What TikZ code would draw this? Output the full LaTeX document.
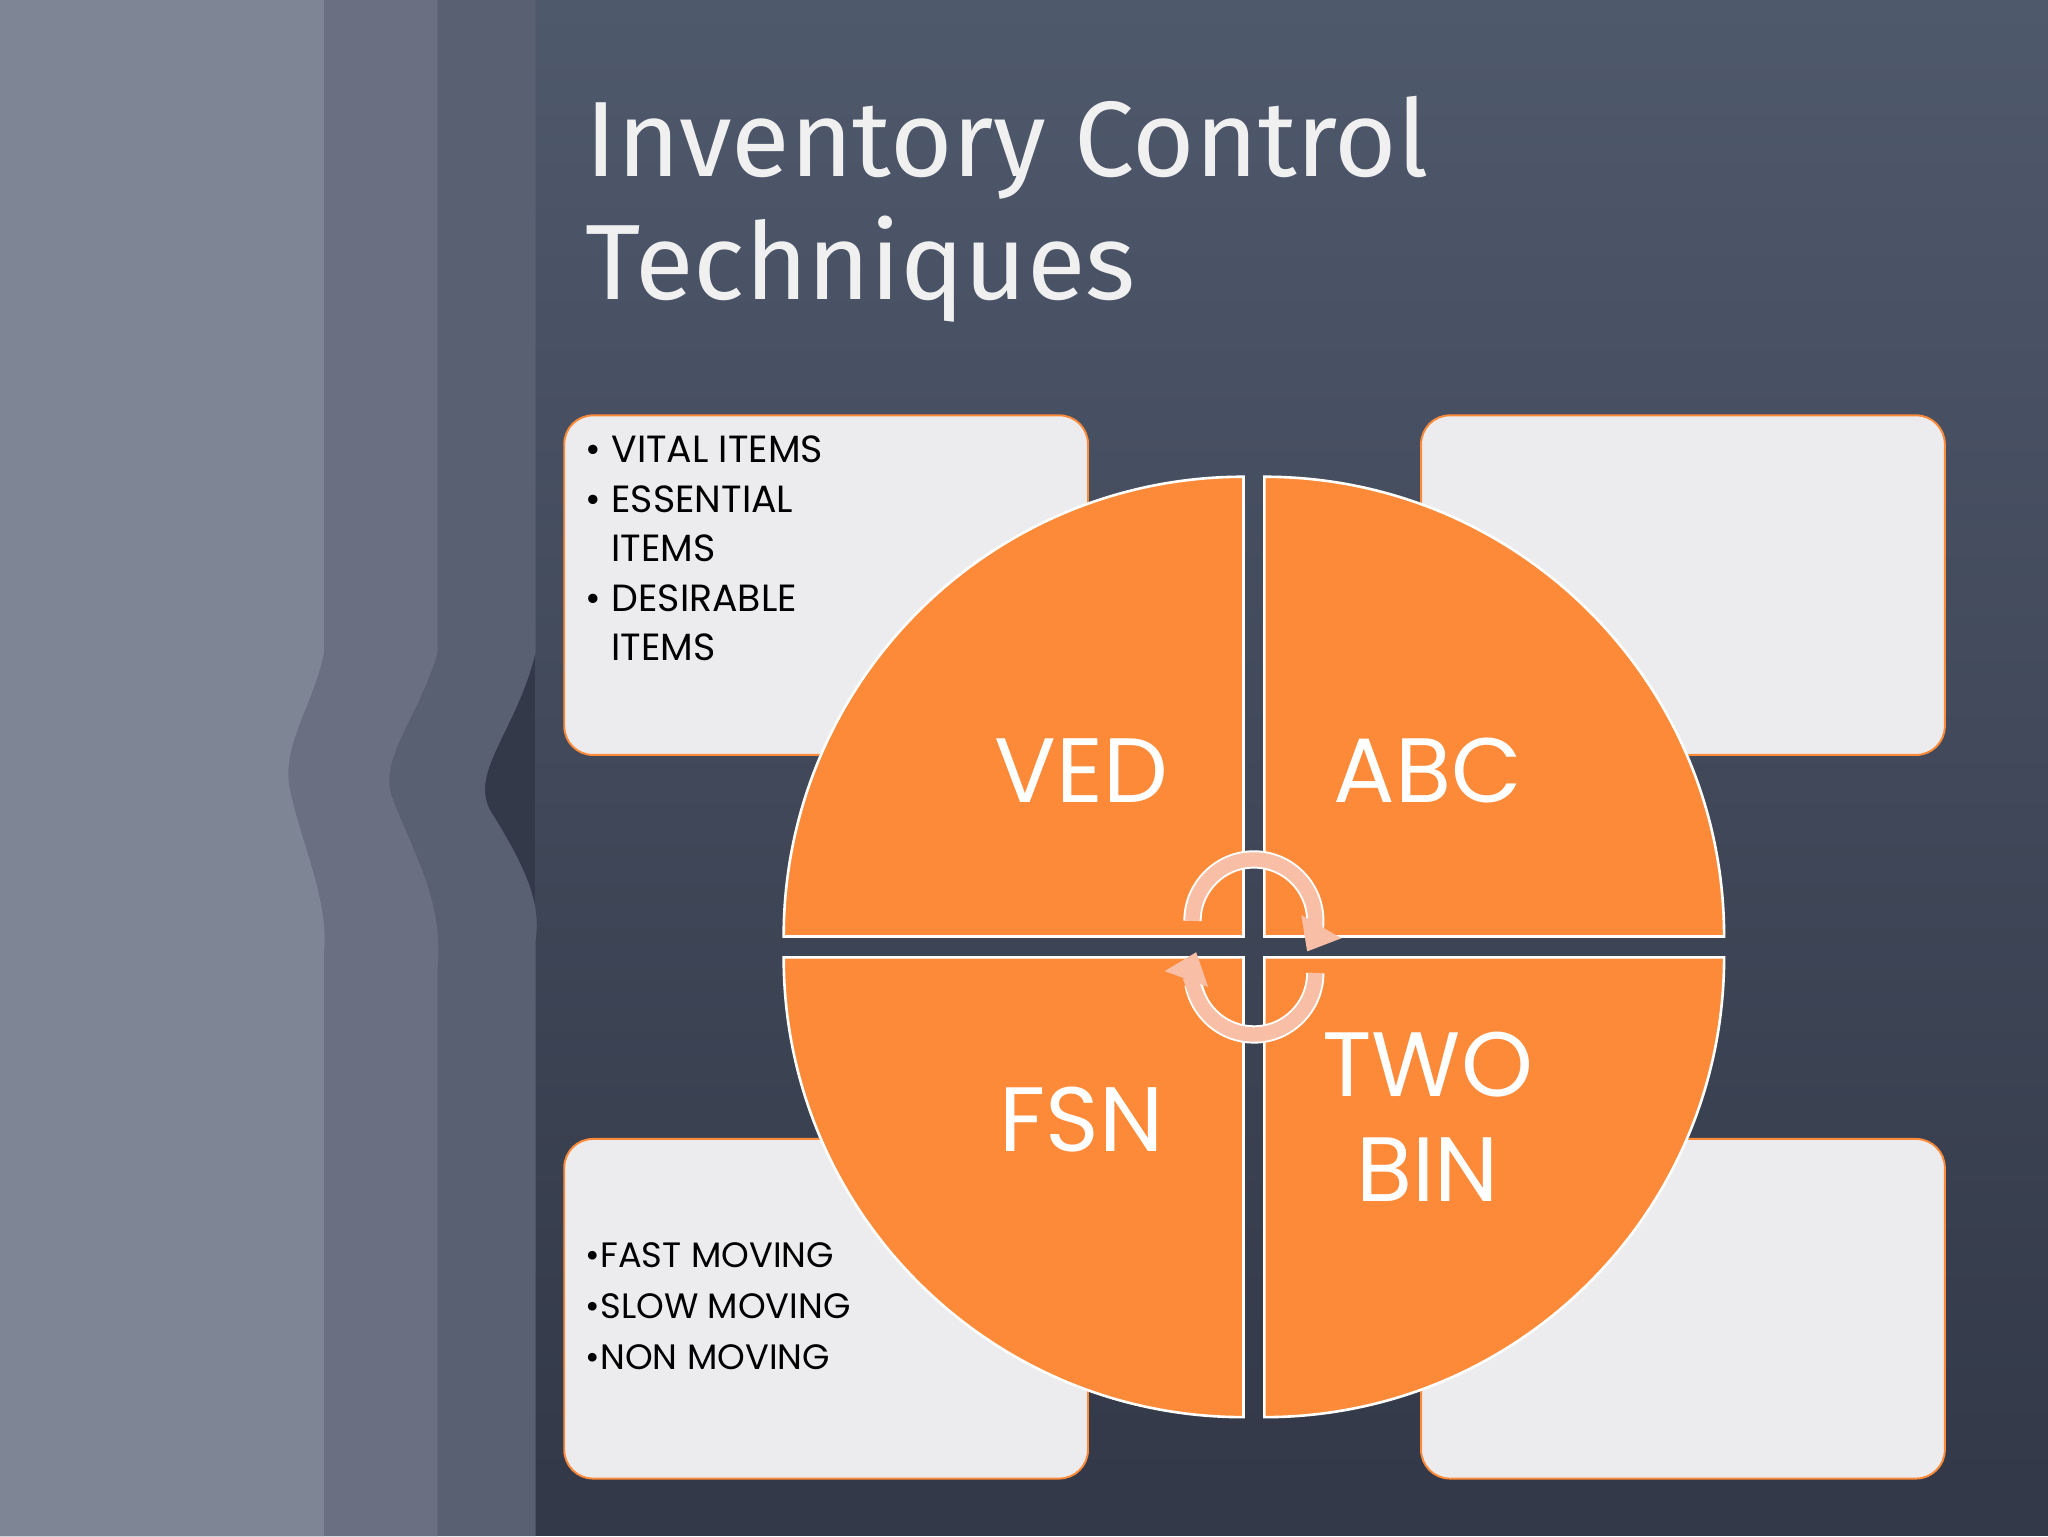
\documentclass[tikz,border=0pt]{standalone}
\usepackage{fontspec}
\setmainfont{Poppins}
\newfontfamily\titlefont{Fira Sans}
\usetikzlibrary{arrows.meta}
\definecolor{bgtop}{HTML}{4F596C}
\definecolor{bgbot}{HTML}{333948}
\definecolor{stripA}{HTML}{7E8594}
\definecolor{stripB}{HTML}{6A7082}
\definecolor{stripC}{HTML}{596072}
\definecolor{boxfill}{HTML}{ECECEF}
\definecolor{orng}{HTML}{FD8A39}
\definecolor{peach}{HTML}{F8BFA6}
\tikzset{
 infobox/.style={draw=orng,line width=1.5pt,fill=boxfill,rounded corners=22pt},
 quad/.style={fill=orng,draw=white,line width=2pt},
 bigtxt/.style={text=white,font=\fontsize{70}{72}\selectfont,align=center},
 listtxt/.style={text=black,font=\fontsize{29}{38}\selectfont,align=left,anchor=north west},
 cyc/.style={draw=peach,line width=11pt,-{Triangle[length=22pt,width=34pt]}}
}
\begin{document}
\begin{tikzpicture}[x=1pt,y=-1pt]
\useasboundingbox (0,0) rectangle (1568,1176);
\fill[bgbot] (0,0) rectangle (1568,1176);
\shade[top color=bgtop,bottom color=bgbot] (410,0) rectangle (1568,1135);
\fill[stripC] (0,0) -- (410,0) -- (410,500) .. controls (395,560) and (360,590) .. (375,620) .. controls (400,660) and (415,690) .. (410,720) -- (410,1176) -- (0,1176) -- cycle;
\fill[stripB] (0,0) -- (335,0) -- (335,500) .. controls (320,550) and (290,580) .. (300,610) .. controls (315,650) and (340,690) .. (335,740) -- (335,1176) -- (0,1176) -- cycle;
\fill[stripA] (0,0) -- (248,0) -- (248,500) .. controls (240,540) and (215,570) .. (222,605) .. controls (232,650) and (252,690) .. (248,730) -- (248,1176) -- (0,1176) -- cycle;
\node[anchor=west,text=white!88!gray,font=\titlefont\fontsize{82}{94}\selectfont,align=left] (title) at (445,160) {Inventory Control\\Techniques};
\node[infobox,minimum width=401pt,minimum height=260pt] (btl) at (632.5,448) {};
\node[infobox,minimum width=401pt,minimum height=260pt] (btr) at (1288.5,448) {};
\node[infobox,minimum width=401pt,minimum height=260pt] (bbl) at (632.5,1002) {};
\node[infobox,minimum width=401pt,minimum height=260pt] (bbr) at (1288.5,1002) {};
\node[listtxt] (ltl) at (445,330) {%
\textbullet\ VITAL ITEMS\\\textbullet\ ESSENTIAL\\\phantom{\textbullet\ }ITEMS\\\textbullet\ DESIRABLE\\\phantom{\textbullet\ }ITEMS};
\node[listtxt,font=\fontsize{27}{39}\selectfont] (lbl) at (445,948) {%
\textbullet FAST MOVING\\\textbullet SLOW MOVING\\\textbullet NON MOVING};
\draw[quad] (952,717) -- ++(-352,0) arc[start angle=180,end angle=270,radius=352] -- cycle;
\draw[quad] (968,717) -- ++(0,-352) arc[start angle=270,end angle=360,radius=352] -- cycle;
\draw[quad] (952,733) -- ++(-352,0) arc[start angle=180,end angle=90,radius=352] -- cycle;
\draw[quad] (968,733) -- ++(352,0) arc[start angle=0,end angle=90,radius=352] -- cycle;
\node[bigtxt] (ved) at (828,590) {VED};
\node[bigtxt] (abc) at (1093,590) {ABC};
\node[bigtxt] (fsn) at (828,857) {FSN};
\node[bigtxt,font=\fontsize{70}{80}\selectfont] (twobin) at (1093,855) {TWO\\BIN};
\draw[cyc,draw=white,line width=14pt,-] (913,705) arc[start angle=180,end angle=375,radius=47];
\draw[cyc] (913,705) arc[start angle=180,end angle=390,radius=47];
\draw[cyc,draw=white,line width=14pt,-] (1007,745) arc[start angle=0,end angle=170,radius=47];
\draw[cyc] (1007,745) arc[start angle=0,end angle=200,radius=47];
\end{tikzpicture}
\end{document}
